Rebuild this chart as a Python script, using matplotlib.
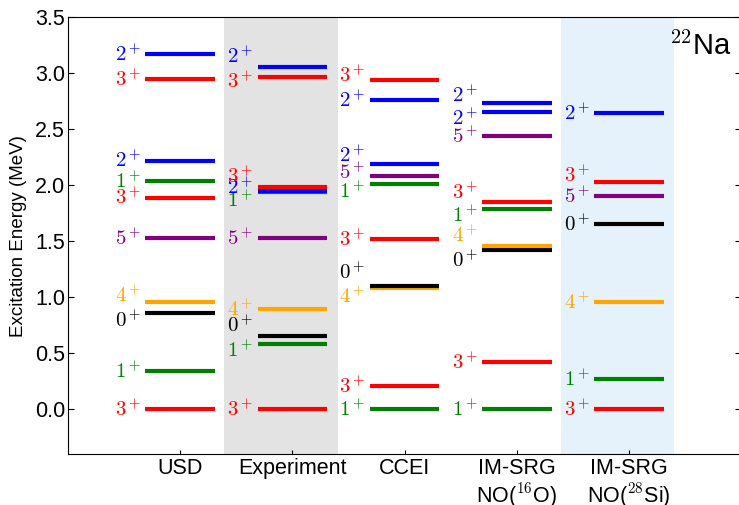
import matplotlib
matplotlib.use("Agg")
import matplotlib.pyplot as plt

plt.rcParams['font.family'] = ['Liberation Sans', 'DejaVu Sans']
plt.rcParams['mathtext.fontset'] = 'cm'

# level schemes of 22Na: (energy in MeV, spin label, colour name)
columns = ["USD", "Experiment", "CCEI", "IM-SRG\nNO($^{16}$O)", "IM-SRG\nNO($^{28}$Si)"]

usd_E = [0.0, 0.34, 0.857, 0.955, 1.53, 1.89, 2.04, 2.22, 2.95, 3.17]
usd_J = ["3", "1", "0", "4", "5", "3", "1", "2", "3", "2"]

exp_E = [0.0, 0.583, 0.657, 0.891, 1.528, 1.937, 1.952, 1.984, 2.969, 3.059]
exp_J = ["3", "1", "0", "4", "5", "1", "2", "3", "3", "2"]

ccei_E = [0.0, 0.21, 1.085, 1.10, 1.52, 2.01, 2.08, 2.19, 2.76, 2.94]
ccei_J = ["1", "3", "4", "0", "3", "1", "5", "2", "2", "3"]

o16_E = [0.0, 0.42, 1.42, 1.455, 1.785, 1.85, 2.44, 2.65, 2.735]
o16_J = ["1", "3", "0", "4", "1", "3", "5", "2", "2"]

si28_E = [0.0, 0.27, 0.96, 1.65, 1.905, 2.03, 2.645]
si28_J = ["3", "1", "4", "0", "5", "3", "2"]

levels = [(usd_E, usd_J), (exp_E, exp_J), (ccei_E, ccei_J), (o16_E, o16_J), (si28_E, si28_J)]

spin_colors = {"0": "black", "1": "green", "2": "blue", "3": "red", "4": "orange", "5": "purple"}

# small vertical nudges so crowded labels don't sit on top of each other
label_nudge = [
    {2: -0.06, 3: 0.065},
    {1: -0.055, 2: 0.09, 5: -0.07, 6: 0.03, 7: 0.10, 8: -0.04, 9: 0.09},
    {2: -0.075, 3: 0.12, 5: -0.06, 6: 0.04, 7: 0.08, 9: 0.04},
    {2: -0.085, 3: 0.10, 4: -0.055, 5: 0.09, 7: -0.05, 8: 0.07},
    {5: 0.06},
]

fig = plt.figure(figsize=(7.39, 5.05), dpi=100)
ax = fig.add_axes([0.092, 0.101, 0.911, 0.865])

ax.axvspan(1.39, 2.41, color='#e3e3e3', lw=0, zorder=0)
ax.axvspan(4.39, 5.40, color='#e5f2fb', lw=0, zorder=0)

half = 0.31
for i, (E, J) in enumerate(levels):
    x = i + 1
    for k, (e, j) in enumerate(zip(E, J)):
        c = spin_colors[j]
        ax.plot([x - half, x + half], [e, e], color=c, lw=3, solid_capstyle='butt', zorder=2)
        y = e + label_nudge[i].get(k, 0.0)
        ax.text(x - half - 0.035, y - 0.062, "$%s^+$" % j, color=c, fontsize=15,
                ha='right', va='baseline', zorder=3)

ax.text(5.36, 3.16, "$^{22}$Na", fontsize=21, ha='left', va='baseline')

ax.set_xlim(0, 6)
ax.set_ylim(-0.4, 3.5)
ax.set_yticks([0.0, 0.5, 1.0, 1.5, 2.0, 2.5, 3.0, 3.5])
ax.set_yticklabels(["%.1f" % v for v in ax.get_yticks()])
ax.set_xticks(range(1, 6))
ax.set_xticklabels(columns, linespacing=1.1)
ax.tick_params(axis='y', direction='in', length=4, labelsize=15.5, right=True, pad=2)
ax.tick_params(axis='x', direction='in', length=3, labelsize=15.5, pad=3)
ax.set_ylabel("Excitation Energy (MeV)", fontsize=13.5, labelpad=6)

plt.savefig("out.png", dpi=100)
